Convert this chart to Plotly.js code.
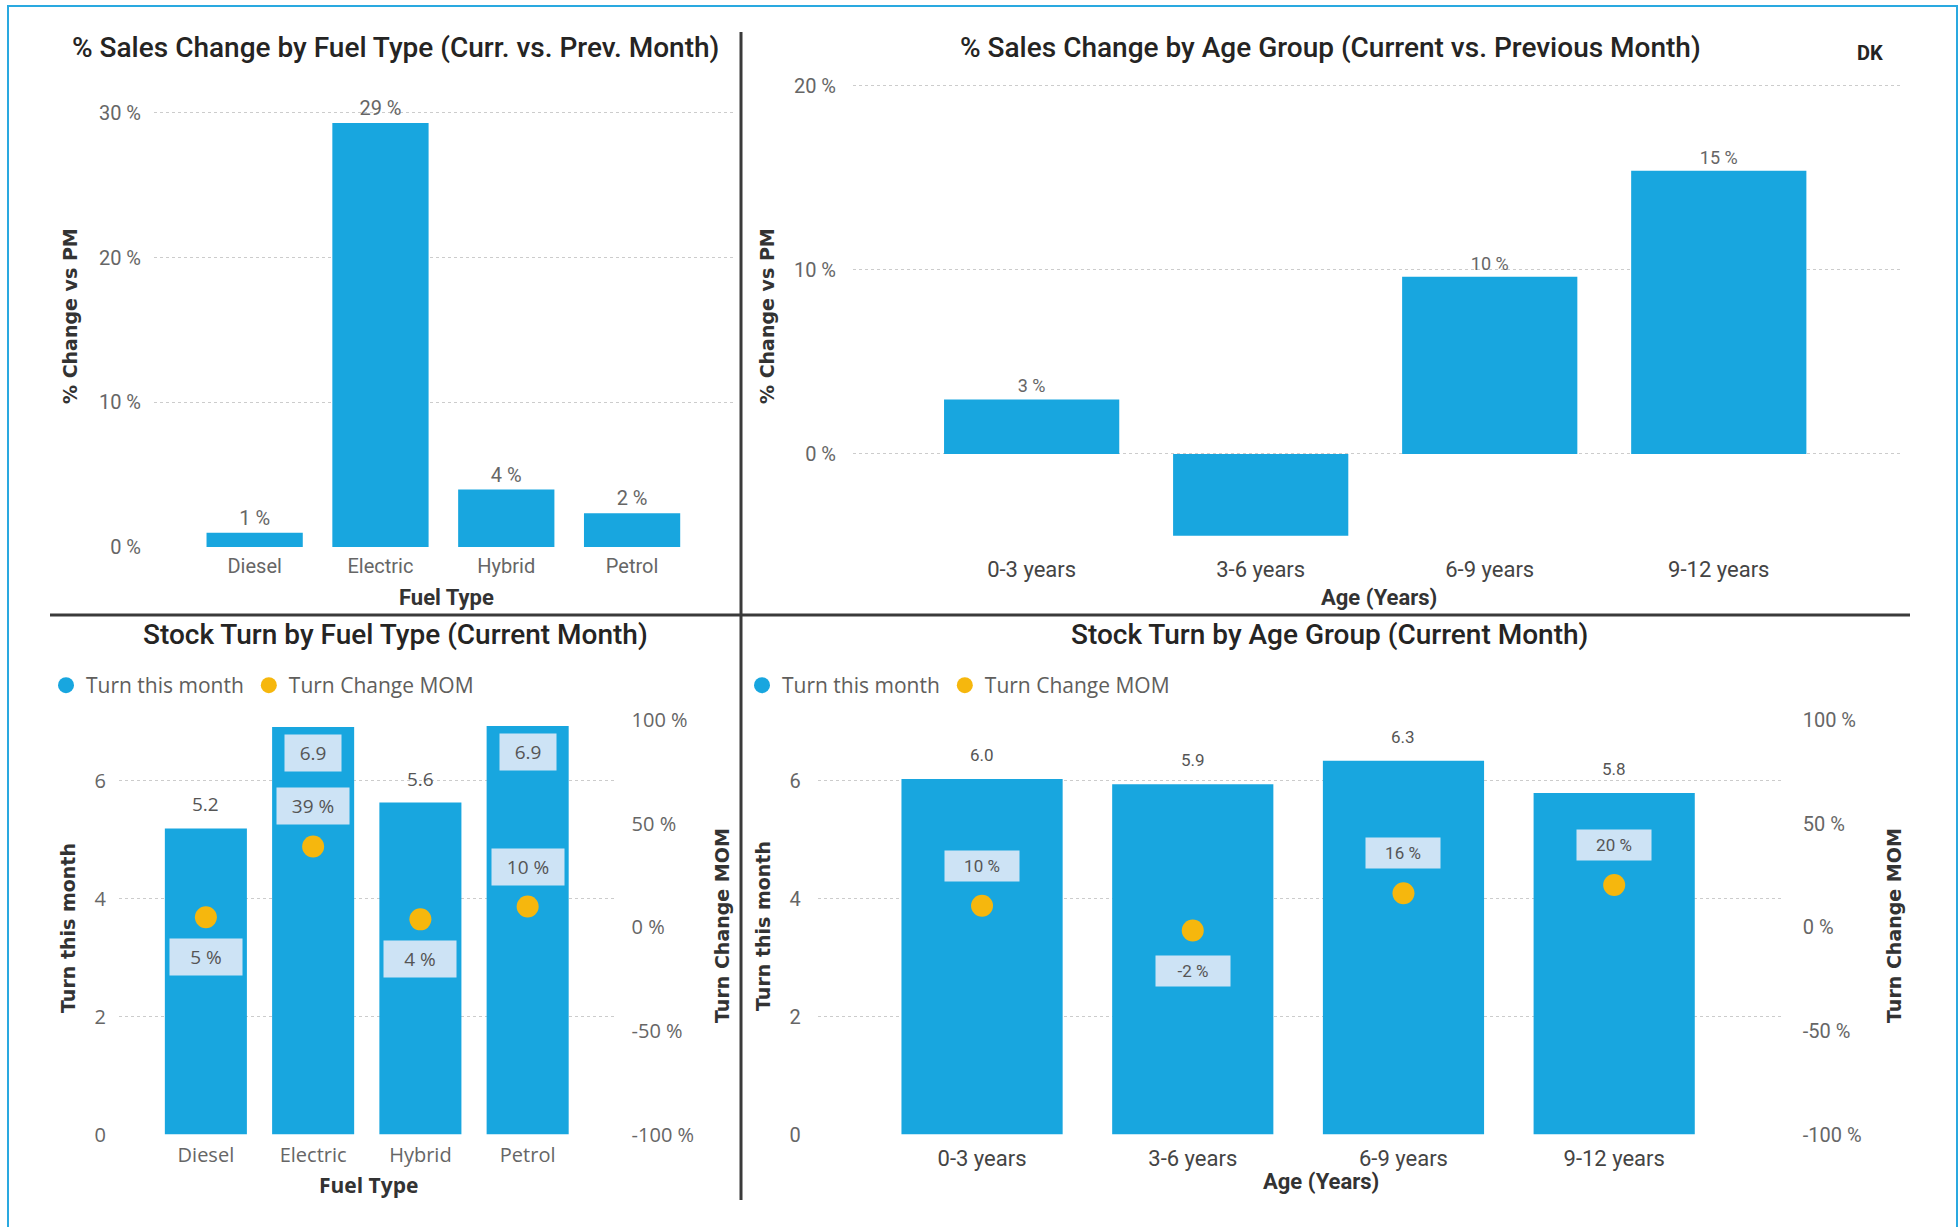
<!DOCTYPE html>
<html><head><meta charset="utf-8">
<script src="https://cdn.plot.ly/plotly-3.0.1.min.js"></script>
<style>html,body{margin:0;padding:0;background:#fff;}#chart{width:1959px;height:1227px;}</style>
</head><body><div id="chart"></div>
<script>
// ---------- data ----------
const fuelTypes = ['Diesel', 'Electric', 'Hybrid', 'Petrol'];
const fuelSalesChange = [0.99, 29.3, 3.97, 2.33];          // % change vs previous month
const ageGroups = ['0-3 years', '3-6 years', '6-9 years', '9-12 years'];
const ageSalesChange = [2.96, -4.45, 9.62, 15.39];          // % change vs previous month
const fuelTurn = [5.19, 6.91, 5.63, 6.93];                  // turn this month
const fuelTurnChange = [4.8, 39, 3.8, 10];                  // turn change MOM (%)
const ageTurn = [6.03, 5.94, 6.34, 5.79];                   // turn this month
const ageTurnChange = [10.4, -1.6, 16.4, 20.4];             // turn change MOM (%)
const salesFuelTicks = [0, 10, 20, 30];
const salesAgeTicks = [0, 10, 20];
const turnTicks = [0, 2, 4, 6];
const changeTicks = [-100, -50, 0, 50, 100];

// ---------- helpers ----------
const W = 1959, H = 1227;
const px = v => v / W;
const py = v => 1 - v / H;
const BLUE = '#18a6df';
const GOLD = '#f6b70d';
const DIN = 'Roboto, "Liberation Sans", sans-serif';
const SEGOE = '"Segoe UI", "Open Sans", "Noto Sans", sans-serif';
const VERD = '"DejaVu Sans", Verdana, sans-serif';
const TXT = '#252423';
const GRAY = '#666666';
const pct = v => Math.round(v) + ' %';
const pctTick = v => v + ' %';

function ann(text, x, y, o) {
  return Object.assign({text: text, x: px(x), y: py(y), xref: 'paper', yref: 'paper',
    showarrow: false, xanchor: 'center', yanchor: 'middle'}, o || {});
}

const gridY = {showgrid: true, gridcolor: '#cccccc', griddash: 'dot', gridwidth: 1,
  zeroline: false, showline: false, ticks: '', fixedrange: true};
const catX = {type: 'category', showgrid: false, zeroline: false, showline: false, ticks: '', fixedrange: true};

// ---------- traces ----------
function turnPanel(cats, turn, change, xa, ya, ya2, leg, grp) {
  return [
    {type: 'bar', name: 'Turn this month', x: cats, y: turn, xaxis: xa, yaxis: ya,
     marker: {color: BLUE}, legend: leg, legendgroup: grp + 'turn', showlegend: false},
    // legend entry for the bars, drawn with a round symbol like the original (points themselves hidden)
    {type: 'scatter', mode: 'markers', name: 'Turn this month', x: cats, y: turn, xaxis: xa, yaxis: ya,
     marker: {color: BLUE, size: 16}, selectedpoints: [], unselected: {marker: {opacity: 0}},
     legend: leg, legendgroup: grp + 'turn', showlegend: true, hoverinfo: 'skip'},
    {type: 'scatter', mode: 'markers', name: 'Turn Change MOM', x: cats, y: change,
     xaxis: xa, yaxis: ya2, marker: {color: GOLD, size: 22}, legend: leg, legendgroup: grp + 'chg', showlegend: true}
  ];
}
const traces = [
  {type: 'bar', x: fuelTypes, y: fuelSalesChange, xaxis: 'x', yaxis: 'y',
   marker: {color: BLUE}, text: fuelSalesChange.map(pct), textposition: 'outside',
   cliponaxis: false, textfont: {family: DIN, size: 20, color: GRAY}, showlegend: false, hoverinfo: 'x+y'},
  {type: 'bar', x: ageGroups, y: ageSalesChange, xaxis: 'x2', yaxis: 'y2',
   marker: {color: BLUE}, text: ageSalesChange.map(pct), textposition: 'outside',
   cliponaxis: true, textfont: {family: DIN, size: 18, color: GRAY}, showlegend: false, hoverinfo: 'x+y'}
].concat(turnPanel(fuelTypes, fuelTurn, fuelTurnChange, 'x3', 'y3', 'y5', 'legend', 'f'))
 .concat(turnPanel(ageGroups, ageTurn, ageTurnChange, 'x4', 'y4', 'y6', 'legend2', 'a'));

// ---------- annotations ----------
const TFONT = {family: DIN, size: 28, color: TXT, weight: 500};
const YTFONT = {family: VERD, size: 19, color: '#333', weight: 700};
const XTFONT = {family: DIN, size: 22, color: '#333', weight: 700};
const annotations = [
  ann('% Sales Change by Fuel Type (Curr. vs. Prev. Month)', 395, 47, {font: TFONT}),
  ann('% Sales Change by Age Group (Current vs. Previous Month)', 1330, 47, {font: TFONT}),
  ann('DK', 1870, 53, {font: {family: DIN, size: 20, color: TXT, weight: 700}}),
  ann('Stock Turn by Fuel Type (Current Month)', 395, 634, {font: TFONT}),
  ann('Stock Turn by Age Group (Current Month)', 1329, 634, {font: TFONT}),
  ann('% Change vs PM', 70, 316, {textangle: -90, font: YTFONT}),
  ann('% Change vs PM', 767, 316, {textangle: -90, font: YTFONT}),
  ann('Fuel Type', 446, 597, {font: XTFONT}),
  ann('Age (Years)', 1379, 597, {font: XTFONT}),
  ann('Turn this month', 68, 928, {textangle: -90, font: YTFONT}),
  ann('Turn Change MOM', 722, 926, {textangle: -90, font: YTFONT}),
  ann('Fuel Type', 368, 1185, {font: {family: SEGOE, size: 21, color: '#333', weight: 700}}),
  ann('Turn this month', 763, 926, {textangle: -90, font: YTFONT}),
  ann('Turn Change MOM', 1894, 926, {textangle: -90, font: YTFONT}),
  ann('Age (Years)', 1321, 1181, {font: XTFONT})
];

const LABELBG = '#cde3f5';
const turnMax = 7.03;
function turnLabels(cats, vals, xr, yr, fnt, size) {
  cats.forEach((c, i) => {
    const inside = turnMax - vals[i] < 0.5;
    annotations.push({x: c, y: vals[i], xref: xr, yref: yr, showarrow: false,
      text: vals[i].toFixed(1), xanchor: 'center', yanchor: 'middle',
      yshift: inside ? -26 : 24, bgcolor: inside ? LABELBG : 'rgba(0,0,0,0)',
      borderpad: inside ? 5 : 0, width: inside ? 46 : null,
      font: {family: fnt, size: size, color: '#555'}});
  });
}
function changeLabels(cats, vals, xr, yr, fnt, size, w) {
  cats.forEach((c, i) => {
    const above = vals[i] >= 10;
    annotations.push({x: c, y: vals[i], xref: xr, yref: yr, showarrow: false,
      text: pct(vals[i]), xanchor: 'center', yanchor: 'middle',
      yshift: above ? 40 : -40, bgcolor: LABELBG, borderpad: 5, width: w,
      font: {family: fnt, size: size, color: '#555'}});
  });
}
turnLabels(fuelTypes, fuelTurn, 'x3', 'y3', SEGOE, 19);
changeLabels(fuelTypes, fuelTurnChange, 'x3', 'y5', SEGOE, 19, 62);
turnLabels(ageGroups, ageTurn, 'x4', 'y4', DIN, 17);
changeLabels(ageGroups, ageTurnChange, 'x4', 'y6', DIN, 17, 64);

// ---------- shapes ----------
const shapes = [
  {type: 'rect', xref: 'paper', yref: 'paper', x0: px(8), x1: px(1957), y0: py(1240), y1: py(6),
   line: {color: '#2aa9e0', width: 2}, fillcolor: 'rgba(0,0,0,0)', layer: 'above'},
  {type: 'line', xref: 'paper', yref: 'paper', x0: px(741), x1: px(741), y0: py(32), y1: py(1200),
   line: {color: '#3a3a3a', width: 3}},
  {type: 'line', xref: 'paper', yref: 'paper', x0: px(50), x1: px(1910), y0: py(615), y1: py(615),
   line: {color: '#3a3a3a', width: 3}}
];

// ---------- layout ----------
const tickTop = {family: DIN, size: 20, color: GRAY};
const tickBot = {family: SEGOE, size: 20, color: GRAY};
const legFont = {family: SEGOE, size: 21, color: '#605e5c'};
const layout = {
  width: W, height: H, margin: {l: 0, r: 0, t: 0, b: 0},
  paper_bgcolor: '#ffffff', plot_bgcolor: 'rgba(0,0,0,0)',
  bargap: 0.235, hovermode: 'closest',
  xaxis: Object.assign({}, catX, {domain: [px(154), px(734)], anchor: 'y', range: [-0.8, 3.81],
    tickfont: tickTop, ticklabelstandoff: 5}),
  yaxis: Object.assign({}, gridY, {domain: [py(547), py(84)], anchor: 'x', range: [0, 32],
    tickvals: salesFuelTicks, ticktext: salesFuelTicks.map(pctTick), tickfont: tickTop, ticklabelstandoff: 12}),
  xaxis2: Object.assign({}, catX, {domain: [px(853), px(1902)], anchor: 'y2', range: [-0.78, 3.8],
    tickfont: {family: DIN, size: 22, color: '#444'}, ticklabelstandoff: 12}),
  yaxis2: Object.assign({}, gridY, {domain: [py(542.2), py(78.5)], anchor: 'x2', range: [-4.8, 20.4],
    tickvals: salesAgeTicks, ticktext: salesAgeTicks.map(pctTick), tickfont: tickTop, ticklabelstandoff: 16}),
  xaxis3: Object.assign({}, catX, {domain: [px(119), px(615.6)], anchor: 'y3', range: [-0.81, 3.82],
    tickfont: tickBot, ticklabelstandoff: 6}),
  yaxis3: Object.assign({}, gridY, {domain: [py(1134.5), py(720)], anchor: 'x3', range: [0, turnMax],
    tickvals: turnTicks, tickfont: tickBot, ticklabelstandoff: 12}),
  yaxis5: {overlaying: 'y3', anchor: 'x3', side: 'right', range: [-100, 100], showgrid: false,
    zeroline: false, showline: false, ticks: '', tickvals: changeTicks, ticktext: changeTicks.map(pctTick),
    tickfont: tickBot, ticklabelstandoff: 15, fixedrange: true},
  xaxis4: Object.assign({}, catX, {domain: [px(817.7), px(1781.7)], anchor: 'y4', range: [-0.78, 3.795],
    tickfont: {family: DIN, size: 22, color: '#444'}, ticklabelstandoff: 8}),
  yaxis4: Object.assign({}, gridY, {domain: [py(1134.5), py(720)], anchor: 'x4', range: [0, turnMax],
    tickvals: turnTicks, tickfont: tickTop, ticklabelstandoff: 16}),
  yaxis6: {overlaying: 'y4', anchor: 'x4', side: 'right', range: [-100, 100], showgrid: false,
    zeroline: false, showline: false, ticks: '', tickvals: changeTicks, ticktext: changeTicks.map(pctTick),
    tickfont: tickTop, ticklabelstandoff: 20, fixedrange: true},
  legend: {orientation: 'h', x: px(46), y: py(665), xanchor: 'left', yanchor: 'top',
    bgcolor: 'rgba(0,0,0,0)', font: legFont},
  legend2: {orientation: 'h', x: px(742), y: py(665), xanchor: 'left', yanchor: 'top',
    bgcolor: 'rgba(0,0,0,0)', font: legFont},
  annotations: annotations,
  shapes: shapes
};

Plotly.newPlot('chart', traces, layout, {displayModeBar: false, staticPlot: true});
</script>
</body></html>
